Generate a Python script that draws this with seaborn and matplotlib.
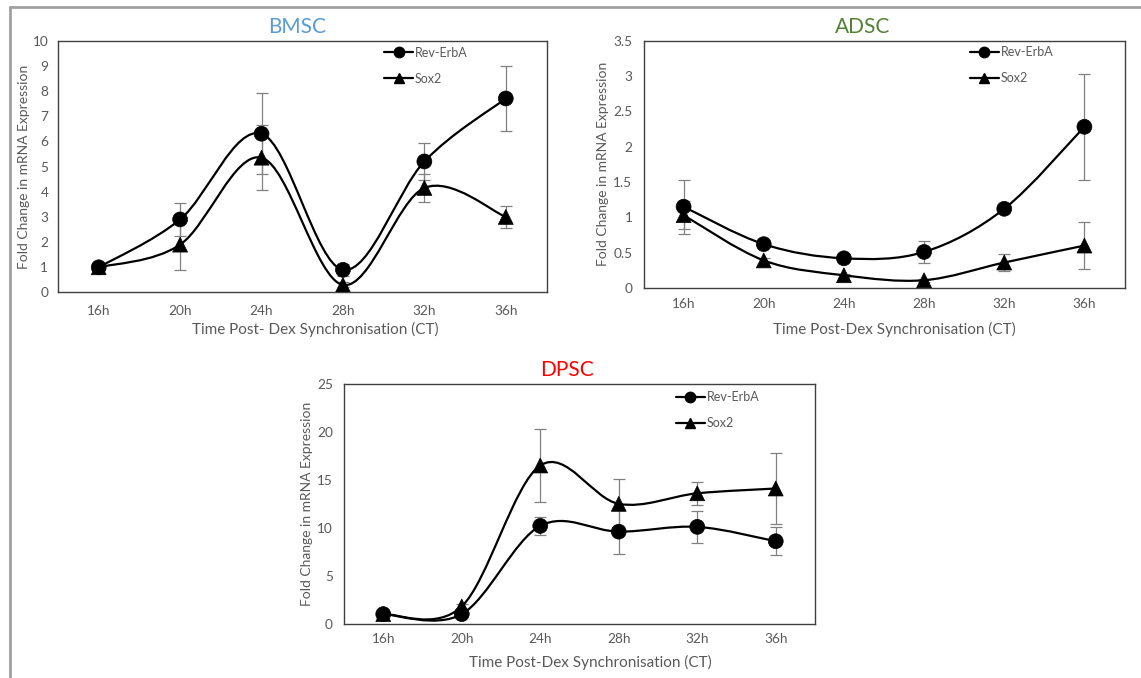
import matplotlib
matplotlib.use("Agg")
import matplotlib.pyplot as plt
import seaborn as sns
import numpy as np
import pandas as pd
from matplotlib.path import Path
from matplotlib.patches import PathPatch
from matplotlib.lines import Line2D

# ---------------- data ----------------
times = ["16h", "20h", "24h", "28h", "32h", "36h"]

bmsc_rev = [1.0, 2.9, 6.3, 0.9, 5.2, 7.7]
bmsc_rev_err = [0.08, 0.65, 1.6, 0.25, 0.75, 1.3]
bmsc_sox = [1.0, 1.9, 5.35, 0.3, 4.15, 3.0]
bmsc_sox_err = [0.08, 1.0, 1.3, 0.1, 0.55, 0.45]

adsc_rev = [1.15, 0.62, 0.42, 0.51, 1.12, 2.28]
adsc_rev_err = [0.38, 0.04, 0.03, 0.15, 0.04, 0.75]
adsc_sox = [1.03, 0.39, 0.18, 0.11, 0.36, 0.6]
adsc_sox_err = [0.2, 0.03, 0.02, 0.02, 0.12, 0.33]

dpsc_rev = [1.0, 1.0, 10.2, 9.6, 10.1, 8.6]
dpsc_rev_err = [0.1, 0.1, 0.9, 2.3, 1.65, 1.45]
dpsc_sox = [1.0, 1.8, 16.5, 12.5, 13.6, 14.1]
dpsc_sox_err = [0.1, 0.3, 3.8, 2.6, 1.2, 3.75]

series_names = ["Rev-ErbA", "Sox2"]
panel_titles = ["BMSC", "ADSC", "DPSC"]
title_colors = ["#5B9BD5", "#538135", "#FF0000"]
x_label_texts = ["Time Post- Dex Synchronisation (CT)",
                 "Time Post-Dex Synchronisation (CT)",
                 "Time Post-Dex Synchronisation (CT)"]
y_label_text = "Fold Change in mRNA Expression"

# ---------------- style ----------------
sns.set_theme(style="white")
plt.rcParams["font.family"] = ["Lato", "DejaVu Sans"]

W, H = 1141, 678
fig = plt.figure(figsize=(W / 100, H / 100), dpi=100)
fig.patch.set_facecolor("white")

GRAY = "#595959"


def px_rect(l, t, r, b):
    return [l / W, 1 - b / H, (r - l) / W, (b - t) / H]


def smooth_path(xs, ys):
    pts = np.column_stack([xs, ys]).astype(float)
    n = len(pts)
    verts = [pts[0]]
    codes = [Path.MOVETO]
    for i in range(n - 1):
        p0 = pts[i - 1] if i > 0 else pts[i]
        p1 = pts[i]
        p2 = pts[i + 1]
        p3 = pts[i + 2] if i + 2 < n else pts[i + 1]
        c1 = p1 + (p2 - p0) / 6.0
        c2 = p2 - (p3 - p1) / 6.0
        verts += [c1, c2, p2]
        codes += [Path.CURVE4] * 3
    return Path(verts, codes)


panels = [
    dict(rect=px_rect(58, 40.5, 546.5, 292.5), ymax=10, ystep=1,
         rev=bmsc_rev, rev_err=bmsc_rev_err, sox=bmsc_sox, sox_err=bmsc_sox_err,
         title_xy=(297, 27), ylab_x=24, xlab_xy=(315, 329), xpad=9, ypad=7,
         leg=(0.668, 0.975)),
    dict(rect=px_rect(643.5, 40.5, 1124.5, 288), ymax=3.5, ystep=0.5,
         rev=adsc_rev, rev_err=adsc_rev_err, sox=adsc_sox, sox_err=adsc_sox_err,
         title_xy=(863, 27), ylab_x=603, xlab_xy=(894, 329), xpad=7, ypad=8,
         leg=(0.679, 0.977)),
    dict(rect=px_rect(344, 384, 815, 623.7), ymax=25, ystep=5,
         rev=dpsc_rev, rev_err=dpsc_rev_err, sox=dpsc_sox, sox_err=dpsc_sox_err,
         title_xy=(567, 370), ylab_x=307, xlab_xy=(590, 662), xpad=7, ypad=8,
         leg=(0.705, 0.970)),
]

xpos = np.arange(len(times))

for k, p in enumerate(panels):
    ax = fig.add_axes(p["rect"])
    df = pd.DataFrame({
        "x": np.concatenate([xpos, xpos]),
        "y": np.concatenate([p["rev"], p["sox"]]),
        "series": [series_names[0]] * len(times) + [series_names[1]] * len(times),
    })
    # error bars
    ax.errorbar(xpos, p["rev"], yerr=p["rev_err"], fmt="none", ecolor="#808080",
                elinewidth=0.9, capsize=4, capthick=0.9, zorder=1)
    ax.errorbar(xpos, p["sox"], yerr=p["sox_err"], fmt="none", ecolor="#808080",
                elinewidth=0.9, capsize=4, capthick=0.9, zorder=1)
    # smooth lines
    for vals in (p["rev"], p["sox"]):
        ax.add_patch(PathPatch(smooth_path(xpos, vals), fill=False,
                               edgecolor="black", lw=1.6, zorder=2))
    # markers
    sns.scatterplot(data=df, x="x", y="y", style="series",
                    markers={"Rev-ErbA": "o", "Sox2": "^"},
                    color="black", s=115, edgecolor="black", linewidth=0.5,
                    legend=False, ax=ax, zorder=3)

    ax.set_xlim(-0.5, len(times) - 0.5)
    ax.set_ylim(0, p["ymax"])
    ax.set_xticks(xpos)
    ax.set_xticklabels(times)
    yt = np.arange(0, p["ymax"] + 1e-9, p["ystep"])
    ax.set_yticks(yt)
    ax.set_yticklabels([f"{v:g}" for v in yt])
    ax.tick_params(axis="both", length=0, labelsize=9.8, labelcolor=GRAY)
    ax.tick_params(axis="x", pad=p["xpad"])
    ax.tick_params(axis="y", pad=p["ypad"])
    for s in ax.spines.values():
        s.set_visible(True)
        s.set_color("#404040")
        s.set_linewidth(1.0)

    ax.set_xlabel(x_label_texts[k], fontsize=11, color=GRAY)
    ax.set_ylabel(y_label_text, fontsize=10, color=GRAY)
    l, b, w, h = p["rect"]
    axl_px, axr_px = l * W, (l + w) * W
    axb_px, axt_px = (1 - b) * H, (1 - b - h) * H
    ax.xaxis.set_label_coords((p["xlab_xy"][0] - axl_px) / (axr_px - axl_px),
                              (axb_px - p["xlab_xy"][1]) / (axb_px - axt_px))
    ax.xaxis.label.set_va("center")
    ax.yaxis.set_label_coords((p["ylab_x"] - axl_px) / (axr_px - axl_px), 0.5)
    ax.yaxis.label.set_va("center")

    fig.text(p["title_xy"][0] / W, 1 - p["title_xy"][1] / H, panel_titles[k],
             color=title_colors[k], fontsize=15, ha="center", va="center")

    handles = [
        Line2D([], [], color="black", lw=1.6, marker="o", markersize=7.5),
        Line2D([], [], color="black", lw=1.6, marker="^", markersize=7.5),
    ]
    leg = ax.legend(handles, series_names, loc="upper left",
                    bbox_to_anchor=p["leg"], frameon=False, fontsize=9,
                    handlelength=2.3, handletextpad=0.15, labelspacing=1.1,
                    borderpad=0, borderaxespad=0)
    for t in leg.get_texts():
        t.set_color(GRAY)

# outer frame (top and left edges)
fig.add_artist(Line2D([10 / W, 1], [1 - 7 / H, 1 - 7 / H], color="#a0a0a0", lw=2))
fig.add_artist(Line2D([10 / W, 10 / W], [0, 1 - 7 / H], color="#a0a0a0", lw=2))

fig.savefig("out.png", dpi=100, facecolor="white")
